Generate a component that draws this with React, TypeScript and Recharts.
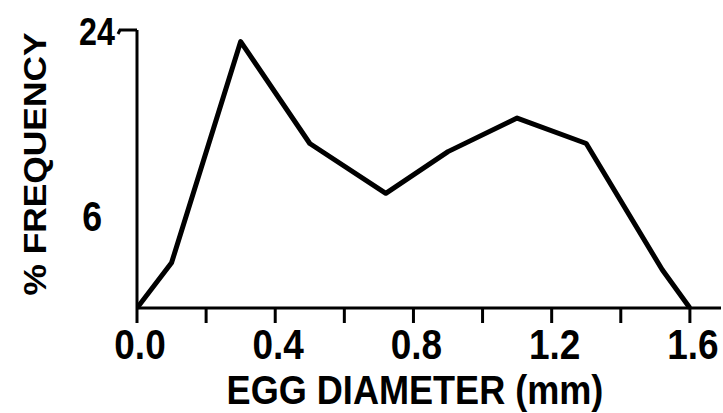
import React from "react";
import { LineChart, Line, XAxis, YAxis, Label } from "recharts";

const diameter = [0, 0.1, 0.3, 0.5, 0.72, 0.9, 1.1, 1.3, 1.52, 1.6];
const frequency = [0, 3.9, 23.0, 14.2, 9.9, 13.5, 16.4, 14.2, 3.3, 0];
const xTicks = [0, 0.2, 0.4, 0.6, 0.8, 1.0, 1.2, 1.4, 1.6];
const xLabelTicks = [0, 0.4, 0.8, 1.2, 1.6];
const yTicks = [6, 24];
const xTitle = "EGG DIAMETER (mm)";
const yTitle = "% FREQUENCY";

const data = diameter.map((d, i) => ({ d, f: frequency[i] }));

const FONT = "'Liberation Sans', Arial, Helvetica, sans-serif";

const XTick = (props: any) => {
  const { x, y, payload } = props;
  const v = payload.value as number;
  const show = xLabelTicks.some((t) => Math.abs(t - v) < 1e-6);
  if (!show) return null;
  return (
    <text
      transform={`translate(${x + 3}, ${y + 36}) scale(0.86, 1)`}
      textAnchor="middle"
      fontFamily={FONT}
      fontWeight="bold"
      fontSize={43}
      fill="#000"
    >
      {v.toFixed(1)}
    </text>
  );
};

const YTick = (props: any) => {
  const { x, y, payload } = props;
  const v = payload.value as number;
  if (v === 24) {
    return (
      <g>
        <path d={`M ${x - 19} ${y + 4} L ${x - 17} ${y} L ${x} ${y}`} stroke="#000" strokeWidth={3} fill="none" />
        <text
          transform={`translate(${x - 22}, ${y + 15}) scale(0.85, 1)`}
          textAnchor="end"
          fontFamily={FONT}
          fontWeight="bold"
          fontSize={38}
          fill="#000"
        >
          {String(v)}
        </text>
      </g>
    );
  }
  return (
    <text
      transform={`translate(${x - 35}, ${y - 8}) scale(0.85, 1)`}
      textAnchor="end"
      fontFamily={FONT}
      fontWeight="bold"
      fontSize={42}
      fill="#000"
    >
      {String(v)}
    </text>
  );
};

const XTitle = () => (
  <text
    transform="translate(415, 404) scale(0.88, 1)"
    textAnchor="middle"
    fontFamily={FONT}
    fontWeight="bold"
    fontSize={41}
    fill="#000"
  >
    {xTitle}
  </text>
);

const YTitle = () => (
  <text
    transform="translate(46, 164) rotate(-90) scale(1.14, 1)"
    textAnchor="middle"
    fontFamily={FONT}
    fontWeight="bold"
    fontSize={31}
    fill="#000"
  >
    {yTitle}
  </text>
);

export default function App() {
  return (
    <div style={{ position: "absolute", left: 0, top: 0, width: 723, height: 413, background: "#fff" }}>
      <LineChart width={723} height={413} data={data} margin={{ top: 30, right: 2, left: 0, bottom: 0 }}>
        <XAxis
          dataKey="d"
          type="number"
          domain={[0, 1.69]}
          ticks={xTicks}
          allowDataOverflow
          height={105}
          tickSize={15}
          tickMargin={0}
          stroke="#000"
          strokeWidth={3}
          tickLine={{ stroke: "#000", strokeWidth: 3 }}
          tick={<XTick />}
          interval={0}
        >
          <Label content={<XTitle />} />
        </XAxis>
        <YAxis
          type="number"
          domain={[0, 24]}
          ticks={yTicks}
          width={137}
          tickSize={0}
          tickMargin={0}
          tickLine={false}
          stroke="#000"
          strokeWidth={3}
          tick={<YTick />}
          interval={0}
        >
          <Label content={<YTitle />} />
        </YAxis>
        <Line
          type="linear"
          dataKey="f"
          stroke="#000"
          strokeWidth={5}
          dot={false}
          isAnimationActive={false}
          strokeLinejoin="round"
        />
      </LineChart>
    </div>
  );
}
